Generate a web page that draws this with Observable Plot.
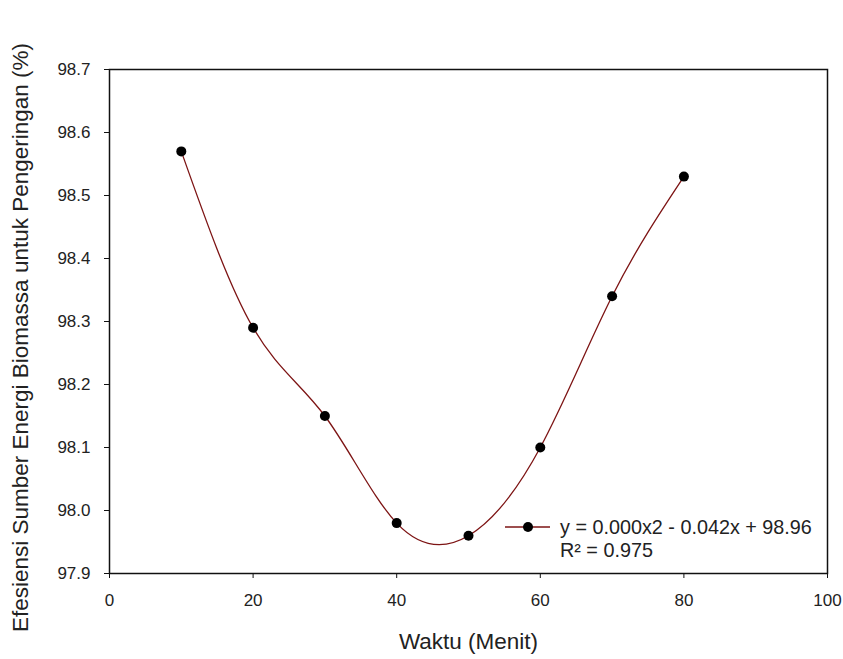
<!DOCTYPE html>
<html><head><meta charset="utf-8">
<script src="https://cdn.jsdelivr.net/npm/d3@7"></script>
<script src="https://cdn.jsdelivr.net/npm/@observablehq/plot@0.6"></script>
<style>body{margin:0;background:#fff}</style>
</head><body><div id="chart"></div>
<script>
const waktu = [10, 20, 30, 40, 50, 60, 70, 80];
const efisiensi = [98.57, 98.29, 98.15, 97.98, 97.96, 98.10, 98.34, 98.53];
const xTicks = [0, 20, 40, 60, 80, 100];
const yTicks = [97.9, 98.0, 98.1, 98.2, 98.3, 98.4, 98.5, 98.6, 98.7];
const xTitle = "Waktu (Menit)";
const yTitle = "Efesiensi Sumber Energi Biomassa untuk Pengeringan (%)";
const legendEquation = "y = 0.000x2 - 0.042x + 98.96";
const legendR2 = "R² = 0.975";

const data = waktu.map((x, i) => ({x, y: efisiensi[i]}));
const lineColor = "#7d1414";
const font = "'Liberation Sans', Arial, sans-serif";

const plot = Plot.plot({
  width: 843, height: 659,
  marginLeft: 109, marginRight: 16, marginTop: 69, marginBottom: 86,
  style: {fontFamily: font, background: "#fff", color: "#222"},
  x: {domain: [0, 100]},
  y: {domain: [97.9, 98.7]},
  marks: [
    Plot.axisX({ticks: xTicks, tickSize: 5, tickPadding: 15, fontSize: 17, label: null, stroke: "#111"}),
    Plot.axisY({ticks: yTicks, tickSize: 5, tickPadding: 14, fontSize: 17, tickFormat: d3.format(".1f"),
      label: null, stroke: "#111"}),
    Plot.text([xTitle], {frameAnchor: "bottom", textAnchor: "middle", dy: 75, fontSize: 22.5, fill: "#222", text: d => d}),
    Plot.text([yTitle], {frameAnchor: "left", textAnchor: "middle", rotate: -90, dx: -89, dy: 16, fontSize: 22.5, fill: "#222", text: d => d}),
    Plot.frame({stroke: "#111", strokeWidth: 1.5}),
    Plot.line(data, {x: "x", y: "y", curve: "natural", stroke: lineColor, strokeWidth: 1.3}),
    Plot.dot(data, {x: "x", y: "y", r: 5, fill: "#000", stroke: "none"})
  ]
});
document.getElementById("chart").appendChild(plot);

// legend inside plot area (bottom-right)
const svg = d3.select(plot);
const g = svg.append("g").attr("font-family", font).attr("fill", "#222").attr("text-anchor", "start");
const lx = 505, ly = 527;
g.append("line").attr("x1", lx).attr("x2", lx + 45).attr("y1", ly).attr("y2", ly)
  .attr("stroke", lineColor).attr("stroke-width", 1.3);
g.append("circle").attr("cx", lx + 23).attr("cy", ly).attr("r", 5).attr("fill", "#000");
g.append("text").attr("x", lx + 55).attr("y", ly).attr("dy", "0.35em").attr("font-size", 19.8).text(legendEquation);
g.append("text").attr("x", lx + 55).attr("y", ly + 23).attr("dy", "0.35em").attr("font-size", 19.8).text(legendR2);
</script>
</body></html>
